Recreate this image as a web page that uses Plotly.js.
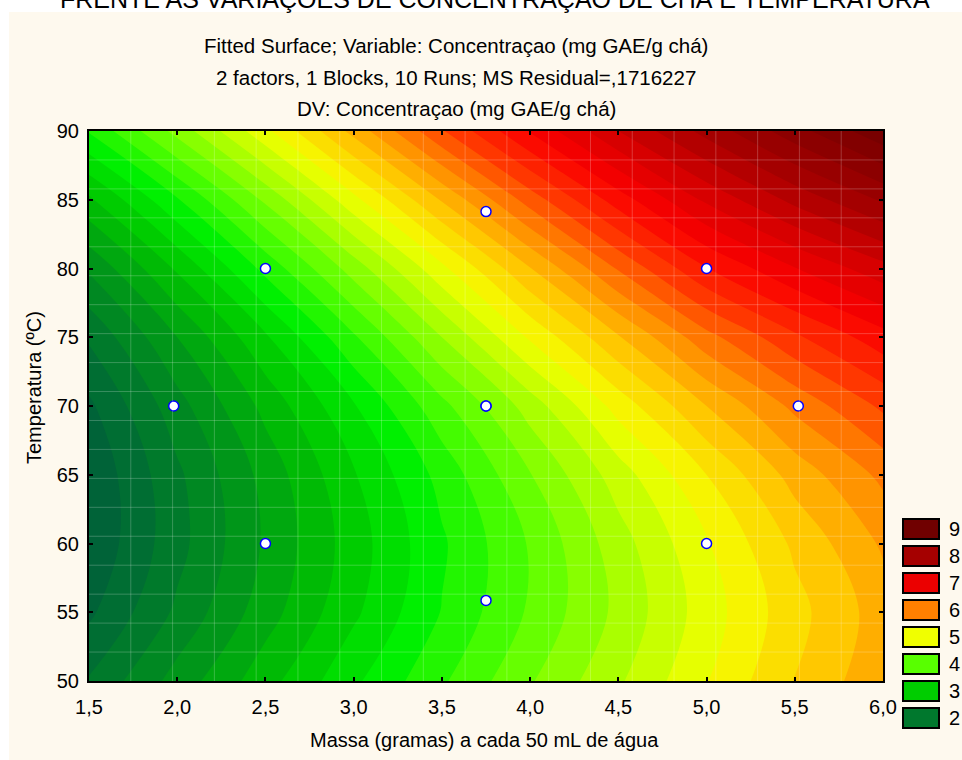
<!DOCTYPE html>
<html>
<head>
<meta charset="utf-8">
<script src="https://cdn.plot.ly/plotly-3.0.1.min.js"></script>
<style>html,body{margin:0;padding:0;background:#fff;}#chart{width:962px;height:760px;}</style>
</head>
<body>
<div id="chart"></div>
<script>
// ---- data ----
const massa = [1.5, 2.0, 2.5, 3.0, 3.5, 4.0, 4.5, 5.0, 5.5, 6.0];
const temperatura = [50, 55, 60, 65, 70, 75, 80, 85, 90];
const conc50 = [2.02, 2.48, 2.92, 3.36, 3.77, 4.18, 4.57, 4.99, 5.41, 5.75];
const conc55 = [1.76, 2.24, 2.71, 3.16, 3.61, 4.03, 4.45, 4.90, 5.33, 5.70];
const conc60 = [1.63, 2.13, 2.63, 3.10, 3.57, 4.02, 4.51, 4.98, 5.44, 5.83];
const conc65 = [1.63, 2.16, 2.67, 3.18, 3.67, 4.19, 4.70, 5.20, 5.68, 6.05];
const conc70 = [1.76, 2.32, 2.86, 3.38, 3.94, 4.49, 5.08, 5.60, 6.05, 6.44];
const conc75 = [2.03, 2.60, 3.17, 3.77, 4.40, 5.03, 5.58, 6.13, 6.56, 6.92];
const conc80 = [2.43, 3.03, 3.66, 4.29, 4.95, 5.59, 6.22, 6.79, 7.19, 7.53];
const conc85 = [2.96, 3.58, 4.24, 4.94, 5.62, 6.29, 6.90, 7.44, 7.86, 8.23];
const conc90 = [3.62, 4.27, 4.95, 5.67, 6.38, 7.02, 7.60, 8.07, 8.52, 8.95];
const runMassa = [2.5, 5.0, 2.5, 5.0, 1.98, 5.52, 3.75, 3.75, 3.75, 3.75];
const runTemp = [60, 60, 80, 80, 70, 70, 55.86, 84.14, 70, 70];
const legendLevels = ['9', '8', '7', '6', '5', '4', '3', '2'];
const xTicks = [1.5, 2.0, 2.5, 3.0, 3.5, 4.0, 4.5, 5.0, 5.5, 6.0];
const yTicks = [50, 55, 60, 65, 70, 75, 80, 85, 90];

// ---- styles ----
const legendColors = ['rgb(112,0,0)', 'rgb(165,0,0)', 'rgb(235,0,0)', 'rgb(255,128,0)',
  'rgb(240,255,0)', 'rgb(88,255,0)', 'rgb(0,205,0)', 'rgb(0,120,45)'];
const zMin = 1.5, zMax = 9.5;
const colorStops = [
  [1.5, 'rgb(0,88,62)'], [2.0, 'rgb(0,115,48)'], [2.5, 'rgb(0,150,25)'], [3.0, 'rgb(0,195,0)'],
  [3.5, 'rgb(0,240,0)'], [4.0, 'rgb(85,255,0)'], [4.5, 'rgb(170,255,0)'], [5.0, 'rgb(245,255,0)'],
  [5.5, 'rgb(255,200,0)'], [6.0, 'rgb(255,135,0)'], [6.5, 'rgb(255,55,0)'], [7.0, 'rgb(250,0,0)'],
  [7.5, 'rgb(215,0,0)'], [8.0, 'rgb(170,0,0)'], [8.5, 'rgb(140,0,0)'], [9.0, 'rgb(115,0,0)'],
  [9.5, 'rgb(100,0,0)']
];
const colorscale = colorStops.map(s => [(s[0] - zMin) / (zMax - zMin), s[1]]);

const FONT = 'Liberation Sans, Arial, sans-serif';
const L = 89, R = 883, T = 131, B = 681;
const px = x => (x - L) / (R - L);
const py = y => (B - y) / (B - T);

const z = [conc50, conc55, conc60, conc65, conc70, conc75, conc80, conc85, conc90];

const traces = [
  {
    type: 'contour', x: massa, y: temperatura, z: z,
    zmin: zMin, zmax: zMax, colorscale: colorscale, showscale: false,
    contours: {coloring: 'fill', showlines: false, start: 1.6, end: 9.4, size: 0.2},
    line: {width: 0, smoothing: 1},
    hoverinfo: 'skip'
  },
  {
    type: 'scatter', mode: 'markers', x: runMassa, y: runTemp,
    marker: {size: 10, color: 'white', line: {color: 'rgb(0,0,255)', width: 1.5}},
    cliponaxis: false, hoverinfo: 'skip', showlegend: false
  }
];

const shapes = [
  {type: 'rect', xref: 'paper', yref: 'paper', x0: px(9), x1: px(975), y0: py(775), y1: py(12),
   fillcolor: 'rgb(254,249,238)', line: {width: 0}, layer: 'below'}
];
// faint mesh lines of the fitted-surface grid
for (let k = 1; k < 19; k++) {
  shapes.push({type: 'line', xref: 'paper', yref: 'paper', x0: k / 19, x1: k / 19, y0: 0, y1: 1,
    line: {color: 'rgba(255,255,255,0.22)', width: 1}, layer: 'above'});
  shapes.push({type: 'line', xref: 'paper', yref: 'paper', x0: 0, x1: 1, y0: k / 19, y1: k / 19,
    line: {color: 'rgba(255,255,255,0.22)', width: 1}, layer: 'above'});
}
const annotations = [
  {text: 'FRENTE AS VARIAÇÕES DE CONCENTRAÇÃO DE CHÁ E TEMPERATURA', x: px(495), y: py(-1),
   font: {size: 25, color: '#000', family: FONT}},
  {text: 'Fitted Surface; Variable: Concentraçao (mg GAE/g chá)', x: px(456), y: py(45),
   font: {size: 20.5, color: '#000', family: FONT}},
  {text: '2 factors, 1 Blocks, 10 Runs; MS Residual=,1716227', x: px(456), y: py(77),
   font: {size: 20.5, color: '#000', family: FONT}},
  {text: 'DV: Concentraçao (mg GAE/g chá)', x: px(456), y: py(109),
   font: {size: 20.5, color: '#000', family: FONT}},
  {text: 'Massa (gramas) a cada 50 mL de água', x: px(484), y: py(740),
   font: {size: 20, color: '#000', family: FONT}},
  {text: 'Temperatura (ºC)', x: px(34), y: py(388), textangle: -90,
   font: {size: 20, color: '#000', family: FONT}}
];
legendLevels.forEach((lab, i) => {
  const yc = 529 + i * 27;
  shapes.push({type: 'rect', xref: 'paper', yref: 'paper', x0: px(903), x1: px(939),
    y0: py(yc + 10), y1: py(yc - 10), fillcolor: legendColors[i],
    line: {color: '#000', width: 2}, layer: 'above'});
  annotations.push({text: lab, x: px(947), y: py(yc), xanchor: 'left',
    font: {size: 20, color: '#000', family: FONT}});
});
annotations.forEach(a => { a.xref = 'paper'; a.yref = 'paper'; a.showarrow = false;
  if (!a.xanchor) a.xanchor = 'center'; a.yanchor = 'middle'; });

const axisCommon = {
  showgrid: false, zeroline: false, showline: true, linecolor: '#000', linewidth: 2,
  mirror: 'ticks', ticks: 'inside', ticklen: 4, tickwidth: 2, tickcolor: '#000',
  tickfont: {size: 20, color: '#000', family: FONT}, fixedrange: true
};
const layout = {
  width: 962, height: 760,
  margin: {l: L, r: 962 - R, t: T, b: 760 - B, pad: 0},
  paper_bgcolor: '#ffffff', plot_bgcolor: 'rgba(0,0,0,0)',
  separators: ',.',
  showlegend: false,
  xaxis: Object.assign({}, axisCommon, {range: [1.5, 6.0], tickvals: xTicks, tickformat: '.1f',
    ticklabelstandoff: 7}),
  yaxis: Object.assign({}, axisCommon, {range: [50, 90], tickvals: yTicks, ticklabelstandoff: 4}),
  shapes: shapes, annotations: annotations
};
Plotly.newPlot('chart', traces, layout, {displayModeBar: false, staticPlot: true});
</script>
</body>
</html>
